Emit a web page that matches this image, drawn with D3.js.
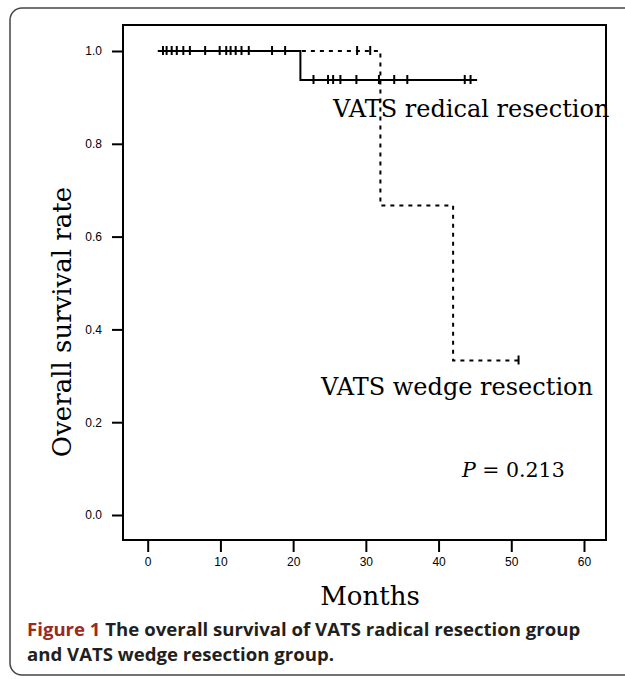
<!DOCTYPE html>
<html lang="en">
<head>
<meta charset="utf-8">
<title>Overall survival</title>
<script src="https://d3js.org/d3.v7.min.js"></script>
<style>
  body { margin: 0; background: #fff; }
</style>
</head>
<body>
<div id="dataviz"></div>
<script>
// survival steps
var radicalTimes = [1.4, 21, 45.3];
var radicalSurv = [1, 0.9375, 0.9375];
var wedgeTimes = [1.4, 32, 42, 51];
var wedgeSurv = [1, 0.667, 0.333, 0.333];

// censored observations (months)
var radicalCensored = [2.1, 2.6, 3.3, 4.0, 4.9, 5.8, 7.9, 9.9, 10.8, 11.4, 12.1, 12.9, 13.9,
    17.1, 18.9, 22.8, 24.8, 25.5, 26.5, 28.7, 31.8, 33.9, 35.7, 43.6, 44.4];
var wedgeCensored = [28.8, 30.6, 51];

var xTicks = [0, 10, 20, 30, 40, 50, 60];
var yTicks = [0.0, 0.2, 0.4, 0.6, 0.8, 1.0];

var width = 625, height = 679;

var svg = d3.select("#dataviz")
    .append("svg")
    .attr("width", width)
    .attr("height", height);

// outer rounded frame
svg.append("rect")
    .attr("x", 10).attr("y", 8)
    .attr("width", 640).attr("height", 667)
    .attr("rx", 12)
    .style("fill", "none")
    .style("stroke", "#444")
    .style("stroke-width", 1.5);

var x = d3.scaleLinear().domain([0, 60]).range([147.7, 584]);
var y = d3.scaleLinear().domain([0, 1]).range([515, 51]);

// plot box
var box = { left: 123, top: 25, right: 606, bottom: 540 };
svg.append("path")
    .attr("d", "M" + box.left + "," + box.bottom + "V" + box.top + "H" + box.right + "V" + box.bottom + "Z")
    .style("fill", "none")
    .style("stroke", "#000")
    .style("stroke-width", 2);

// y axis
var yAxis = svg.append("g")
    .attr("transform", "translate(" + box.left + ",0)")
    .call(d3.axisLeft(y).tickValues(yTicks).tickFormat(d3.format(".1f")).tickSize(11).tickPadding(10));
yAxis.select(".domain").remove();

// x axis
var xAxis = svg.append("g")
    .attr("transform", "translate(0," + box.bottom + ")")
    .call(d3.axisBottom(x).tickValues(xTicks).tickFormat(d3.format("d")).tickSize(12).tickPadding(5));
xAxis.select(".domain").remove();

svg.selectAll(".tick line").style("stroke", "#000").style("stroke-width", 2);
svg.selectAll(".tick text")
    .style("font-family", "Liberation Sans, Arial, sans-serif")
    .style("font-size", "12px")
    .style("fill", "#000");

function survAt(times, surv, t) {
    var s = surv[0];
    for (var i = 0; i < times.length; i++) {
        if (times[i] <= t) s = surv[i];
    }
    return s;
}

var line = d3.line()
    .x(function (d) { return x(d.t); })
    .y(function (d) { return y(d.s); })
    .curve(d3.curveStepAfter);

var groups = [
    { name: "wedge", times: wedgeTimes, surv: wedgeSurv, cens: wedgeCensored, dash: "4,5" },
    { name: "radical", times: radicalTimes, surv: radicalSurv, cens: radicalCensored, dash: null }
];

groups.forEach(function (g) {
    var pts = g.times.map(function (t, i) { return { t: t, s: g.surv[i] }; });
    svg.append("path")
        .attr("d", line(pts))
        .style("fill", "none")
        .style("stroke", "#000")
        .style("stroke-width", 2)
        .style("stroke-dasharray", g.dash);

    svg.selectAll(".c-" + g.name)
        .data(g.cens)
        .enter()
        .append("line")
        .attr("x1", function (d) { return x(d); })
        .attr("x2", function (d) { return x(d); })
        .attr("y1", function (d) { return y(survAt(g.times, g.surv, d)) - 5; })
        .attr("y2", function (d) { return y(survAt(g.times, g.surv, d)) + 4; })
        .style("stroke", "#000")
        .style("stroke-width", 2);
});

var serif = "DejaVu Serif, serif";

svg.append("text")
    .attr("x", 333).attr("y", 117)
    .text("VATS redical resection")
    .style("font-family", serif).style("font-size", "24px");

svg.append("text")
    .attr("x", 321).attr("y", 395)
    .text("VATS wedge resection")
    .style("font-family", serif).style("font-size", "24px");

var p = svg.append("text")
    .attr("x", 462).attr("y", 477)
    .style("font-family", serif).style("font-size", "20.5px");
p.append("tspan").style("font-style", "italic").text("P");
p.append("tspan").text(" = 0.213");

svg.append("text")
    .attr("x", 370).attr("y", 605)
    .attr("text-anchor", "middle")
    .text("Months")
    .style("font-family", serif).style("font-size", "26px");

svg.append("text")
    .attr("transform", "translate(71,322) rotate(-90)")
    .attr("text-anchor", "middle")
    .text("Overall survival rate")
    .style("font-family", serif).style("font-size", "26px");

// caption
var cap = svg.append("text")
    .attr("x", 27).attr("y", 636)
    .style("font-family", "Open Sans, sans-serif")
    .style("font-weight", "bold")
    .style("font-size", "18.6px")
    .style("fill", "#231f20");
cap.append("tspan").style("fill", "#9b2a22").text("Figure 1");
cap.append("tspan").text(" The overall survival of VATS radical resection group");
svg.append("text")
    .attr("x", 27).attr("y", 661)
    .text("and VATS wedge resection group.")
    .style("font-family", "Open Sans, sans-serif")
    .style("font-weight", "bold")
    .style("font-size", "18.6px")
    .style("fill", "#231f20");
</script>
</body>
</html>
